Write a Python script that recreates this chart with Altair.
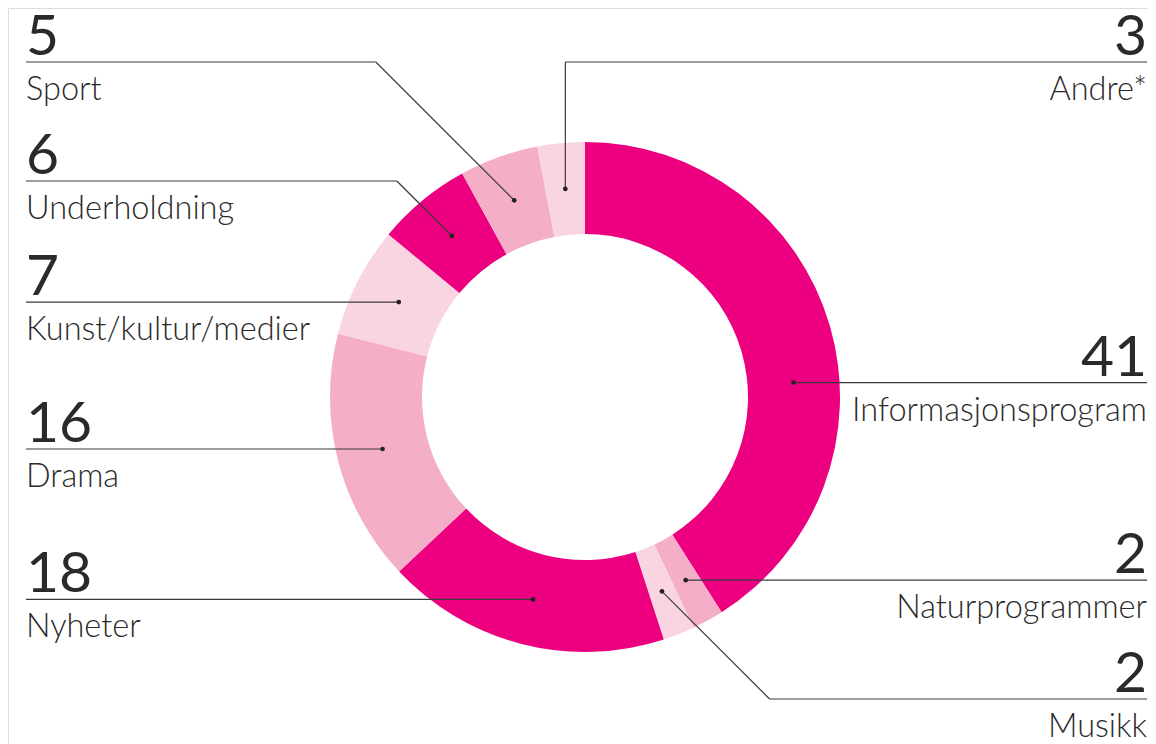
import math
import altair as alt
import pandas as pd

# ---- data ----
categories = ["Informasjonsprogram", "Naturprogrammer", "Musikk", "Nyheter", "Drama",
              "Kunst/kultur/medier", "Underholdning", "Sport", "Andre*"]
values = [41, 2, 2, 18, 16, 7, 6, 5, 3]
tones = ["dark", "medium", "light", "dark", "medium", "light", "dark", "medium", "light"]

# ---- style / layout ----
palette = {"dark": "#EC0080", "medium": "#F4AEC7", "light": "#F9D4E1"}
ink = "#2a2a2a"
W, H = 1140, 736
CX, CY = 585, 397          # donut centre (page pixels)
R_IN, R_OUT = 163, 255
R_DOT = 209
LEFT_X, RIGHT_X = 26, 1147

sides = ["right", "right", "right", "left", "left", "left", "left", "left", "right"]
leader_kind = ["flat", "flat", "diag", "flat", "flat", "flat", "diag", "diag", "vert"]
anchor_frac = [0.583, 0.5, 0.5, 0.5, 0.5, 0.5, 0.5, 0.5, 0.5]
fixed_line_y = [None, None, 699, None, None, None, 181, 62, 62]

total = sum(values)
cum = 0
rows, segs, dots = [], [], []
for i, (c, v) in enumerate(zip(categories, values)):
    ang = 2 * math.pi * (cum + v * anchor_frac[i]) / total
    cum += v
    dx, dy = CX + R_DOT * math.sin(ang), CY - R_DOT * math.cos(ang)
    dots.append({"x": dx, "y": dy})
    if leader_kind[i] == "flat":
        ly, ex = dy, dx
    elif leader_kind[i] == "vert":
        ly, ex = fixed_line_y[i], dx
    else:
        ly = fixed_line_y[i]
        off = abs(dy - ly)
        ex = dx - off if sides[i] == "left" else dx + off
    tx = LEFT_X if sides[i] == "left" else RIGHT_X
    segs.append({"x": tx, "y": ly, "x2": ex, "y2": ly})
    if leader_kind[i] != "flat":
        segs.append({"x": ex, "y": ly, "x2": dx, "y2": dy})
    rows.append({"side": sides[i], "tx": tx, "num": str(v), "cat": c,
                 "ny": ly - 7, "cy": ly + 38})

arc_df = pd.DataFrame({"category": categories, "value": values,
                       "order": list(range(len(values))),
                       "color": [palette[t] for t in tones]})
seg_df = pd.DataFrame(segs)
dot_df = pd.DataFrame(dots)
lab_df = pd.DataFrame(rows)

xs = alt.Scale(domain=[8, 8 + W], range=[0, W])
ys = alt.Scale(domain=[8, 8 + H], range=[0, H])

donut = alt.Chart(arc_df).mark_arc(innerRadius=R_IN, outerRadius=R_OUT).encode(
    theta=alt.Theta("value:Q", stack=True),
    order=alt.Order("order:Q"),
    color=alt.Color("color:N", scale=None),
    x=alt.value(CX - 8), y=alt.value(CY - 8),
)

rules = alt.Chart(seg_df).mark_rule(color="#3a3a3a", strokeWidth=1.2).encode(
    x=alt.X("x:Q", scale=xs, axis=None), y=alt.Y("y:Q", scale=ys, axis=None),
    x2="x2:Q", y2="y2:Q",
)

pts = alt.Chart(dot_df).mark_circle(color="#222222", opacity=1, size=22).encode(
    x=alt.X("x:Q", scale=xs, axis=None), y=alt.Y("y:Q", scale=ys, axis=None),
)

def texts(side, align):
    base = alt.Chart(lab_df).transform_filter(alt.datum.side == side)
    nums = base.mark_text(align=align, baseline="alphabetic", font="Lato", fontSize=57,
                          fontWeight=400, color=ink).encode(
        x=alt.X("tx:Q", scale=xs, axis=None), y=alt.Y("ny:Q", scale=ys, axis=None),
        text="num:N")
    cats = base.mark_text(align=align, baseline="alphabetic", font="Lato", fontSize=32.5,
                          fontWeight=300, color=ink).encode(
        x=alt.X("tx:Q", scale=xs, axis=None), y=alt.Y("cy:Q", scale=ys, axis=None),
        text="cat:N")
    return nums + cats

chart = alt.layer(donut, rules, pts, texts("left", "left"), texts("right", "right")).properties(
    width=W, height=H, autosize=alt.AutoSizeParams(type="none"), padding=0,
).configure_view(strokeWidth=0, stroke="transparent").configure(background="white")

chart.save("out.html", embed_options={"renderer": "svg", "actions": False})
